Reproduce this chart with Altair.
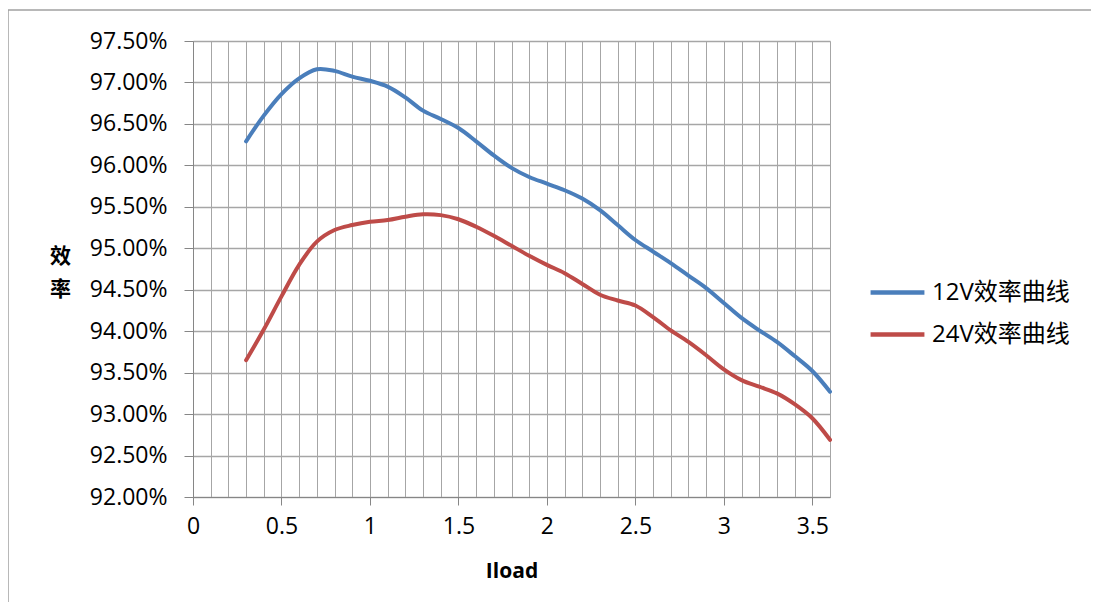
import altair as alt
import pandas as pd

iload = [0.3, 0.4, 0.5, 0.6, 0.7, 0.8, 0.9, 1.0, 1.1, 1.2, 1.3, 1.4, 1.5, 1.6, 1.7, 1.8,
         1.9, 2.0, 2.1, 2.2, 2.3, 2.4, 2.5, 2.6, 2.7, 2.8, 2.9, 3.0, 3.1, 3.2, 3.3, 3.4,
         3.5, 3.6]
eff_12v = [96.29, 96.60, 96.86, 97.05, 97.16, 97.14, 97.07, 97.02, 96.95, 96.82, 96.66,
           96.56, 96.45, 96.29, 96.12, 95.97, 95.86, 95.78, 95.70, 95.60, 95.46, 95.28,
           95.10, 94.96, 94.82, 94.67, 94.52, 94.34, 94.16, 94.01, 93.87, 93.70, 93.52,
           93.27]
eff_24v = [93.65, 94.02, 94.42, 94.80, 95.08, 95.22, 95.28, 95.32, 95.34, 95.38, 95.41,
           95.40, 95.35, 95.26, 95.15, 95.03, 94.91, 94.80, 94.70, 94.57, 94.44, 94.37,
           94.31, 94.17, 94.01, 93.87, 93.71, 93.54, 93.41, 93.33, 93.25, 93.12, 92.95,
           92.69]
series_names = ["12V效率曲线", "24V效率曲线"]
series_colors = ["#4A7EBB", "#BE4B48"]
x_tick_values = [round(i * 0.1, 1) for i in range(37)]
y_tick_values = [92.0, 92.5, 93.0, 93.5, 94.0, 94.5, 95.0, 95.5, 96.0, 96.5, 97.0, 97.5]
x_title = "Iload"
y_title = ["效", "率"]

n = len(iload)
df = pd.DataFrame({
    "Iload": iload + iload,
    "eff": eff_12v + eff_24v,
    "series": [series_names[0]] * n + [series_names[1]] * n,
})

FONT = "Open Sans, Noto Sans CJK SC"
GRID = "#A6A6A6"

major_test = "abs(datum.value * 2 - round(datum.value * 2)) < 0.001"

x_axis = alt.Axis(
    values=x_tick_values,
    grid=True, gridColor=GRID, gridWidth=1,
    domainColor="#868686", domainWidth=1,
    tickColor="#868686", tickSize=8,
    tickOpacity={"condition": {"test": major_test, "value": 1}, "value": 0},
    labelExpr=f"{major_test} ? format(datum.value, '~g') : ''",
    labelOverlap=False, labelBound=False, labelFlush=False,
    labelFont=FONT, labelFontSize=23, labelColor="#000000", labelPadding=10,
    title=x_title, titleFont=FONT, titleFontSize=21, titleFontWeight="bold",
    titleColor="#000000", titleBaseline="middle", titleY=74,
)
y_axis = alt.Axis(
    values=y_tick_values,
    grid=True, gridColor=GRID, gridWidth=1.3,
    domainColor="#868686", domainWidth=1,
    tickColor="#868686", tickSize=9,
    labelExpr="format(datum.value, '.2f') + '%'",
    labelFont=FONT, labelFontSize=23, labelColor="#000000", labelPadding=17,
    labelOverlap=False,
    title=y_title, titleAngle=0, titleFont="Noto Sans CJK SC", titleFontSize=21,
    titleFontWeight="bold", titleColor="#000000", titleAlign="center",
    titleBaseline="top", titleX=-133, titleY=204, titleLineHeight=33,
)

lines = alt.Chart(df).mark_line(strokeWidth=4, interpolate="catmull-rom", strokeCap="round").encode(
    x=alt.X("Iload:Q", scale=alt.Scale(domain=[0, 3.6], nice=False, zero=False), axis=x_axis),
    y=alt.Y("eff:Q", scale=alt.Scale(domain=[92, 97.5], nice=False, zero=False), axis=y_axis),
    color=alt.Color(
        "series:N",
        scale=alt.Scale(domain=series_names, range=series_colors),
        legend=alt.Legend(
            title=None, orient="none", legendX=675, legendY=222,
            symbolType="stroke", symbolSize=2900, symbolStrokeWidth=4.5,
            rowPadding=-9, labelOffset=5,
            labelFont=FONT, labelFontSize=24, labelColor="#000000",
        ),
    ),
)

frame_top = alt.Chart(pd.DataFrame({"f": [0]})).mark_rule(
    stroke="#A0A0A0", strokeWidth=1.5
).encode(x=alt.value(-185), x2=alt.value(950), y=alt.value(-31))
frame_left = alt.Chart(pd.DataFrame({"f": [0]})).mark_rule(
    stroke="#A0A0A0", strokeWidth=1.5
).encode(x=alt.value(-185), y=alt.value(-31), y2=alt.value(650))

chart = alt.layer(frame_top, frame_left, lines).properties(
    width=637, height=456,
    autosize=alt.AutoSizeParams(type="none"),
    padding={"left": 185, "top": 33, "right": 261, "bottom": 105},
).configure_view(stroke=None).configure(background="white")

chart.save("out.html", embed_options={"renderer": "svg", "actions": False})
